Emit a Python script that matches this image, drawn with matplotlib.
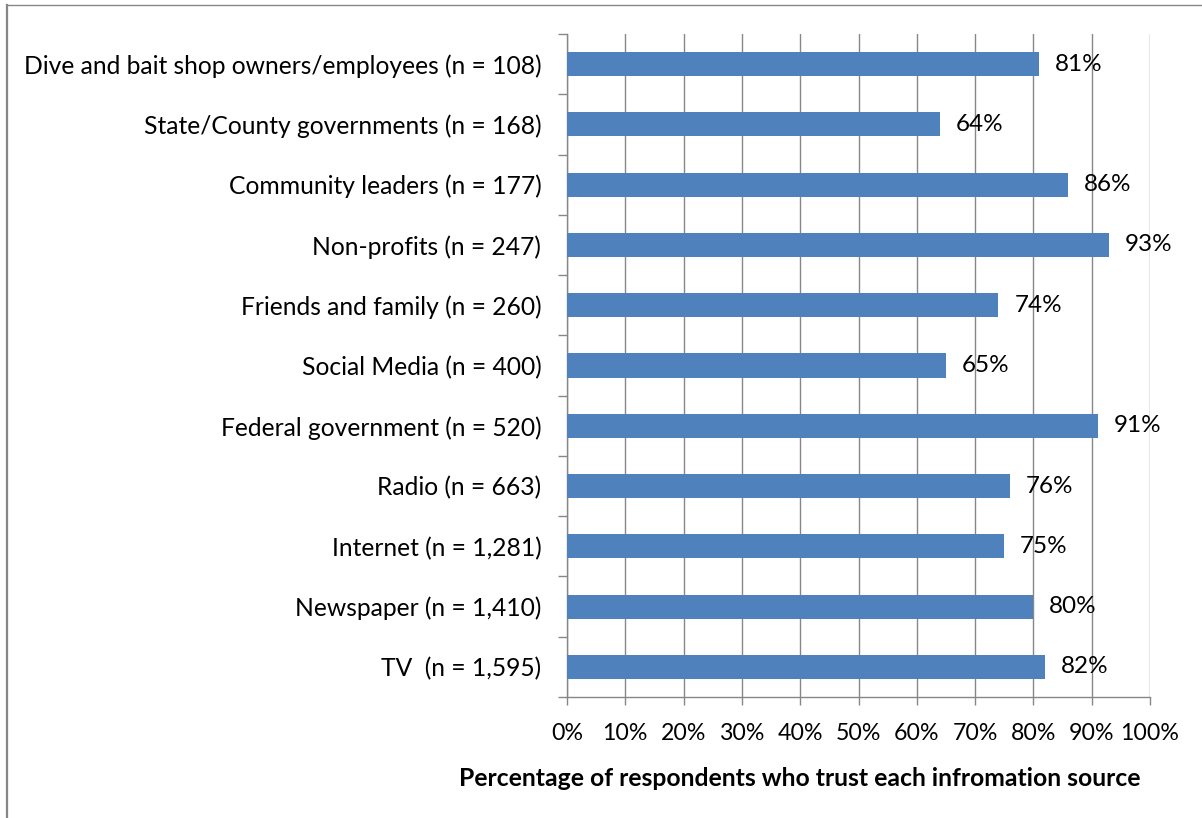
import matplotlib
matplotlib.use("Agg")
import matplotlib.pyplot as plt
from matplotlib.lines import Line2D
import numpy as np

categories = [
    "Dive and bait shop owners/employees (n = 108)",
    "State/County governments (n = 168)",
    "Community leaders (n = 177)",
    "Non-profits (n = 247)",
    "Friends and family (n = 260)",
    "Social Media (n = 400)",
    "Federal government (n = 520)",
    "Radio (n = 663)",
    "Internet (n = 1,281)",
    "Newspaper (n = 1,410)",
    "TV  (n = 1,595)",
]
values = [81, 64, 86, 93, 74, 65, 91, 76, 75, 80, 82]
xticks = list(range(0, 101, 10))
xlabel = "Percentage of respondents who trust each infromation source"

plt.rcParams['font.family'] = ['Lato', 'DejaVu Sans']

W, H = 1202, 818
fig = plt.figure(figsize=(W / 100, H / 100), dpi=100)
ax = fig.add_axes([567 / W, 1 - 697 / H, (1150 - 567) / W, (697 - 34) / H])

n = len(categories)
ypos = np.arange(n)[::-1]
bar_color = "#4F81BD"
grid_color = "#878787"
ax.barh(ypos, values, height=0.4, color=bar_color, zorder=3)

for y, v in zip(ypos, values):
    ax.annotate(f"{v}%", xy=(v, y), xytext=(11.5, 0), textcoords="offset points",
                ha="left", va="center", fontsize=17.5, color="black", zorder=4)

ax.set_xlim(0, 100)
ax.set_ylim(-0.5, n - 0.5)
ax.set_xticks(xticks)
ax.set_xticklabels([f"{t}%" for t in xticks], fontsize=16.7)
ax.set_yticks(ypos)
ax.set_yticklabels(categories, fontsize=17.7)
ax.set_yticks(np.arange(-0.5, n, 1.0), minor=True)

ax.tick_params(axis="y", which="major", length=0, pad=18.5)
ax.tick_params(axis="y", which="minor", length=6.5, width=1.0, color=grid_color, direction="out")
ax.tick_params(axis="x", which="major", length=6, width=1.0, color=grid_color, pad=13)

ax.xaxis.grid(True, color=grid_color, linewidth=1.0, zorder=0)
ax.set_axisbelow(True)
for s in ["top", "right"]:
    ax.spines[s].set_visible(False)
for s in ["left", "bottom"]:
    ax.spines[s].set_color(grid_color)
    ax.spines[s].set_linewidth(1.0)

fig.text(800 / W, 1 - 778 / H, xlabel, ha="center", va="center",
         fontsize=17.8, fontweight="bold")

# outer chart frame
fig.add_artist(Line2D([6.5 / W, 6.5 / W], [0, 1 - 5 / H], color=grid_color, linewidth=1.6,
                      transform=fig.transFigure))
fig.add_artist(Line2D([6.5 / W, 1], [1 - 5 / H, 1 - 5 / H], color=grid_color, linewidth=1.0,
                      transform=fig.transFigure))

fig.savefig("out.png", dpi=100, facecolor="white")
